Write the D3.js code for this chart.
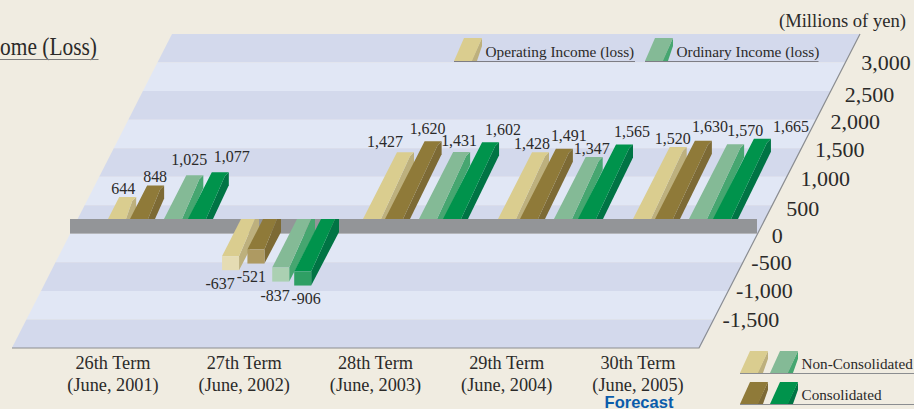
<!DOCTYPE html>
<html><head><meta charset="utf-8">
<script src="https://cdn.jsdelivr.net/npm/d3@7/dist/d3.min.js"></script>
<style>html,body{margin:0;padding:0;background:#f0ece1;overflow:hidden}svg{display:block}text{font-family:"Liberation Serif",serif;fill:#2b2a29}</style>
</head><body><svg id="c" width="914" height="409"></svg>
<script>
const terms = ["26th Term","27th Term","28th Term","29th Term","30th Term"];
const periods = ["(June, 2001)","(June, 2002)","(June, 2003)","(June, 2004)","(June, 2005)"];
const nonConsolidatedOperating = [644,-637,1427,1428,1520];
const consolidatedOperating   = [848,-521,1620,1491,1630];
const nonConsolidatedOrdinary = [1025,-837,1431,1347,1570];
const consolidatedOrdinary    = [1077,-906,1602,1565,1665];
const tickValues = [3000,2500,2000,1500,1000,500,0,-500,-1000,-1500];
const bandEdges = [3500,3000,2500,2000,1500,1000,500,0,-500,-1000,-1500,-2000];

/* layout */
const W=914,H=409, SHEAR=0.51, GRAY_TOP=219, GRAY_BOT=234, DEPTH=14;
const labelNudge = [
 [[4,-3],[8,-3],[3,-10],[20,-10]],
 [[-2,19],[4,18],[3,19],[12,18]],
 [[-12,-5],[3,-7],[6,-6],[21,-7]],
 [[0,-3],[13,-8],[6,-3],[16,-7]],
 [[3,-3],[15,-9],[18,-8],[37,-7]]
];
const tickNudge = [[0,7.7],[-1,10.8],[0,9],[0,8.8],[1,9],[2,10.4],[3,8.7],[-2,7.4],[-2,7],[0,7.3]];
const seriesStyle = [
 {face:"#dacd8f",side:"#bdb07d",front:"#e5dcb3"},
 {face:"#8f7a39",side:"#7d6a35",front:"#ae9a62"},
 {face:"#84ba96",side:"#46a670",front:"#abd0b2"},
 {face:"#00934c",side:"#007444",front:"#2f9f64"}
];
const series=[nonConsolidatedOperating,consolidatedOperating,nonConsolidatedOrdinary,consolidatedOrdinary];
const fmt=v=>d3.format(",")(Math.abs(v)).replace(/^/,v<0?"-":"");

const y=d3.scaleLinear().domain([-2000,3500]).range([348,34]);
const gx=d3.scaleLinear().domain([0,1,2,3,4]).range([108,241,363,498,633]);
const sx=d3.scaleLinear().domain([0,1,2,3]).range([0,22,56,80]);
const catX=d3.scalePoint().domain(terms).range([113,638]);
const line=d3.line();
const svg=d3.select("#c");
const shearAt=(yy)=>SHEAR*(GRAY_TOP-yy);
const leftEdge=yy=>172-SHEAR*(yy-34), rightEdge=yy=>860-SHEAR*(yy-34);

// floor bands
const bands=d3.pairs(bandEdges);
svg.append("g").selectAll("path").data(bands).join("path")
 .attr("d",([a,b])=>{const t=y(a),u=y(b);return line([[leftEdge(t),t],[rightEdge(t),t],[rightEdge(u),u],[leftEdge(u),u]])+"Z"})
 .attr("fill",(d,i)=>i%2?"#e1e7f5":"#d3d9ec");
svg.append("path").attr("d",line([[860,34],[699,348],[12,348]])).attr("fill","none").attr("stroke","#8b8d90").attr("stroke-width",1.2);

// gray axis beam
svg.append("rect").attr("x",70).attr("y",GRAY_TOP).attr("width",687).attr("height",GRAY_BOT-GRAY_TOP).attr("fill","#939598");
svg.append("rect").attr("x",70).attr("y",GRAY_BOT-1).attr("width",687).attr("height",1).attr("fill","#b4b6ba");

// bars
function barPolys(v,xb){
 if(v>=0){
  const yt=y(v), xt=xb+shearAt(yt);
  return {face:[[xb,GRAY_TOP],[xb+18,GRAY_TOP],[xt+13,yt+4],[xt+17,yt],[xt,yt]],
          side:[[xb+18,GRAY_TOP],[xt+13,yt+4],[xt+17,yt],[xt+17,yt+13],[xb+25,GRAY_TOP]],
          anchor:[xt,yt]};
 }
 const yb=y(v), yf=yb-DEPTH, xf=xb+shearAt(yf);
 return {face:[[xb,GRAY_TOP],[xb+14,GRAY_TOP],[xf+17,yf],[xf,yf]],
         side:[[xb+14,GRAY_TOP],[xb+18,GRAY_TOP],[xb+18,GRAY_TOP+13],[xf+17,yb],[xf+17,yf]],
         front:[[xf,yf],[xf+17,yf],[xf+17,yb],[xf,yb]],
         anchor:[xf,yb]};
}
const barsData=[];
terms.forEach((t,g)=>series.forEach((s,i)=>{
  const b=barPolys(s[g],gx(g)+sx(i));
  barsData.push({g,i,v:s[g],...b});
}));
const barG=svg.append("g").selectAll("g").data(barsData).join("g");
barG.append("path").attr("d",d=>line(d.side)+"Z").attr("fill",d=>seriesStyle[d.i].side);
barG.append("path").attr("d",d=>line(d.face)+"Z").attr("fill",d=>seriesStyle[d.i].face);
barG.filter(d=>d.front).append("path").attr("d",d=>line(d.front)+"Z").attr("fill",d=>seriesStyle[d.i].front);

// value labels
svg.append("g").selectAll("text").data(barsData).join("text")
 .attr("x",d=>d.anchor[0]+labelNudge[d.g][d.i][0])
 .attr("y",d=>d.anchor[1]+labelNudge[d.g][d.i][1])
 .attr("text-anchor","middle").attr("font-size",17)
 .text(d=>fmt(d.v))
 .attr("lengthAdjust","spacingAndGlyphs")
 .attr("textLength",function(){return this.getComputedTextLength()*0.94;});

// value-axis labels
svg.append("g").selectAll("text").data(tickValues).join("text")
 .attr("x",(d,i)=>861-0.54*(y(d)-63)+tickNudge[i][0])
 .attr("y",(d,i)=>y(d)+tickNudge[i][1])
 .attr("font-size",22)
 .text(fmt);

svg.append("text").attr("x",906).attr("y",27).attr("text-anchor","end").attr("font-size",18.6).text("(Millions of yen)");

// category labels
const cat=svg.append("g").selectAll("g").data(terms).join("g");
cat.append("text").attr("x",d=>catX(d)).attr("y",369).attr("text-anchor","middle").attr("font-size",18.3).text(d=>d);
cat.append("text").attr("x",d=>catX(d)).attr("y",390.5).attr("text-anchor","middle").attr("font-size",18.3).text((d,i)=>periods[i]);
svg.append("text").attr("x",639).attr("y",407.5).attr("text-anchor","middle").attr("font-size",16.5).attr("font-weight","bold")
 .style("font-family","'Liberation Sans',sans-serif").style("fill","#0b5cab").text("Forecast");

// title fragment
svg.append("text").attr("x",0).attr("y",54.5).attr("font-size",24.5).attr("textLength",97).attr("lengthAdjust","spacingAndGlyphs").text("ome (Loss)");
svg.append("line").attr("x1",0).attr("x2",98.5).attr("y1",59.5).attr("y2",59.5).attr("stroke","#7d7d7d");

// legends
function swatch(x,top,bottom,w,st){
 const h=bottom-top, f=Math.round(w*0.36);
 const g=svg.append("g");
 g.append("path").attr("d",line([[x+w*0.62,bottom],[x+w,top],[x+w,top+h*0.35],[x+w*0.82,bottom]])+"Z").attr("fill",st.side);
 g.append("path").attr("d",line([[x,bottom],[x+f,top],[x+w,top],[x+w*0.64,bottom]])+"Z").attr("fill",st.face);
}
const topLegend=[{x:454,tx:485.5,end:635,s:0,label:"Operating Income (loss)"},{x:645,tx:676.5,end:818.5,s:2,label:"Ordinary Income (loss)"}];
topLegend.forEach(l=>{
 swatch(l.x,38,61,28,seriesStyle[l.s]);
 svg.append("text").attr("x",l.tx).attr("y",57).attr("font-size",15.3).text(l.label);
 svg.append("line").attr("x1",l.x).attr("x2",l.end).attr("y1",61.5).attr("y2",61.5).attr("stroke","#7d7d85");
});
const botLegend=[{top:351,bot:373,a:0,b:2,label:"Non-Consolidated",ty:369},{top:382,bot:404,a:1,b:3,label:"Consolidated",ty:400}];
botLegend.forEach(l=>{
 swatch(740,l.top,l.bot,28,seriesStyle[l.a]);
 swatch(770,l.top,l.bot,28,seriesStyle[l.b]);
 svg.append("text").attr("x",801.5).attr("y",l.ty).attr("font-size",15.2).text(l.label);
 svg.append("line").attr("x1",740).attr("x2",914).attr("y1",l.bot+.5).attr("y2",l.bot+.5).attr("stroke","#8b8d90");
});
</script></body></html>
